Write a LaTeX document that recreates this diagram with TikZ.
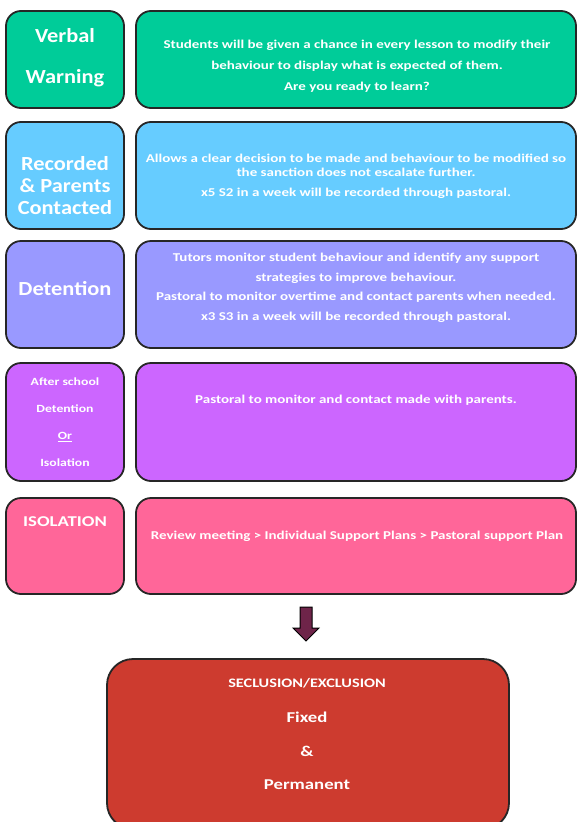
\documentclass[tikz,border=0pt]{standalone}
\usepackage{fontspec}
\setmainfont{Carlito}
\newfontfamily\wfont[FakeStretch=1.25]{Carlito}
\newfontfamily\mfont[FakeStretch=1.12]{Carlito}
\begin{document}
\begin{tikzpicture}[x=1pt,y=-1pt,
  box/.style={draw=black!85,line width=1.8pt,rounded corners=15pt,inner sep=0pt},
  txt/.style={text=white,align=center,inner sep=0pt}]
\definecolor{cgreen}{HTML}{00CC99}
\definecolor{cblue}{HTML}{66CCFF}
\definecolor{cperi}{HTML}{9999FF}
\definecolor{cpurp}{HTML}{CC66FF}
\definecolor{cpink}{HTML}{FF6699}
\definecolor{cred}{HTML}{CD3B2F}
\definecolor{carrow}{HTML}{6E2449}
\useasboundingbox (0,0) rectangle (576,822);
% row 1
\node[box,fill=cgreen,minimum width=118pt,minimum height=97pt] (l1) at (65,59.5) {};
\node[box,fill=cgreen,minimum width=440pt,minimum height=97pt] (r1) at (356,59.5) {};
\node[txt,font=\mfont\bfseries\fontsize{20}{41}\selectfont] (t1) at (65,58) {Verbal\\Warning};
\node[txt,font=\wfont\bfseries\fontsize{12}{21}\selectfont] (s1) at (357,66) {Students will be given a chance in every lesson to modify their\\behaviour to display what is expected of them.\\Are you ready to learn?};
% row 2
\node[box,fill=cblue,minimum width=118pt,minimum height=107pt] (l2) at (65,175.5) {};
\node[box,fill=cblue,minimum width=440pt,minimum height=107pt] (r2) at (356,175.5) {};
\node[txt,font=\mfont\bfseries\fontsize{20}{22}\selectfont] (t2) at (65,186) {Recorded\\\& Parents\\Contacted};
\node[txt,font=\wfont\bfseries\fontsize{12}{14}\selectfont] (s2) at (356,176) {Allows a clear decision to be made and behaviour to be modified so\\the sanction does not escalate further.\\[6pt]x5 S2 in a week will be recorded through pastoral.};
% row 3
\node[box,fill=cperi,minimum width=118pt,minimum height=107pt] (l3) at (65,294.5) {};
\node[box,fill=cperi,minimum width=440pt,minimum height=107pt] (r3) at (356,294.5) {};
\node[txt,font=\mfont\bfseries\fontsize{20}{22}\selectfont] (t3) at (65,289) {Detention};
\node[txt,font=\wfont\bfseries\fontsize{12}{19.5}\selectfont] (s3) at (356,288) {Tutors monitor student behaviour and identify any support\\strategies to improve behaviour.\\Pastoral to monitor overtime and contact parents when needed.\\x3 S3 in a week will be recorded through pastoral.};
% row 4
\node[box,fill=cpurp,minimum width=118pt,minimum height=118pt] (l4) at (65,422) {};
\node[box,fill=cpurp,minimum width=440pt,minimum height=118pt] (r4) at (356,422) {};
\node[txt,font=\wfont\bfseries\fontsize{11}{27}\selectfont] (t4) at (65,422.5) {After school\\Detention\\\underline{Or}\\Isolation};
\node[txt,font=\wfont\bfseries\fontsize{12}{14}\selectfont] (s4) at (356,400) {Pastoral to monitor and contact made with parents.};
% row 5
\node[box,fill=cpink,minimum width=118pt,minimum height=96pt] (l5) at (65,546) {};
\node[box,fill=cpink,minimum width=440pt,minimum height=96pt] (r5) at (356,546) {};
\node[txt,font=\wfont\bfseries\fontsize{15}{18}\selectfont] (t5) at (65,522) {ISOLATION};
\node[txt,font=\wfont\bfseries\fontsize{12}{14}\selectfont] (s5) at (357,536) {Review meeting > Individual Support Plans > Pastoral support Plan};
% arrow
\draw[fill=carrow,draw=black,line width=1pt,line join=miter]
  (300,607) -- (312,607) -- (312,628) -- (319,628) -- (306,641) -- (293,628) -- (300,628) -- cycle;
% bottom
\node[box,fill=cred,rounded corners=26pt,minimum width=402pt,minimum height=170pt] (b) at (308,744) {};
\node[txt,font=\wfont\bfseries\fontsize{13}{15}\selectfont] (b1) at (307,683) {SECLUSION/EXCLUSION};
\node[txt,font=\wfont\bfseries\fontsize{15}{18}\selectfont] (b2) at (307,717) {Fixed};
\node[txt,font=\wfont\bfseries\fontsize{15}{18}\selectfont] (b3) at (307,751) {\&};
\node[txt,font=\wfont\bfseries\fontsize{15}{18}\selectfont] (b4) at (307,785) {Permanent};
\end{tikzpicture}
\end{document}
